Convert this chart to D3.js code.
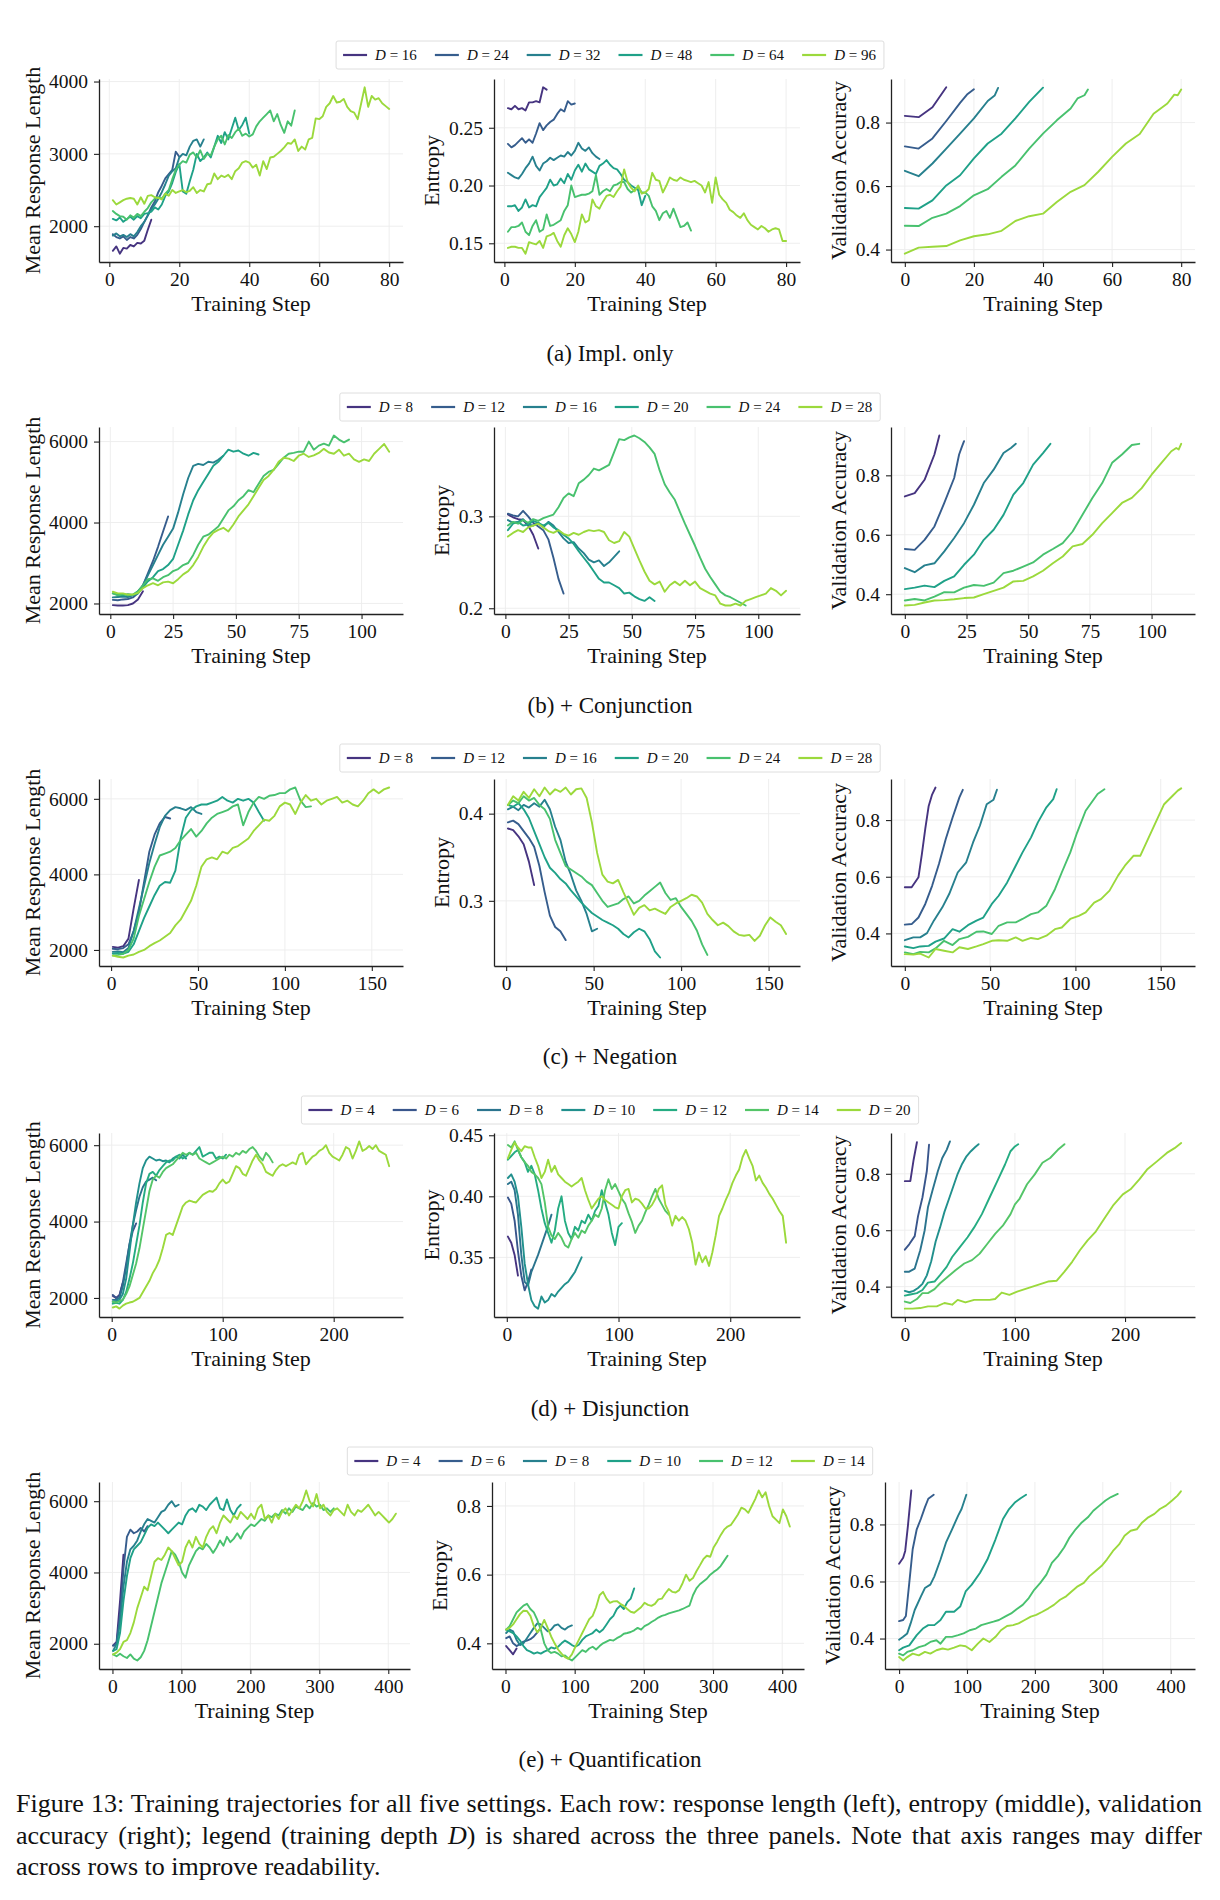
<!DOCTYPE html>
<html>
<head>
<meta charset="utf-8">
<script src="https://cdn.jsdelivr.net/npm/d3@7"></script>
<style>
  body { margin: 0; background: #fff; }
  svg { display: block; }
  svg text { font-family: "Liberation Serif", "Times New Roman", serif; fill: #111; }
</style>
</head>
<body>
<script>
// ---- (a) Impl. only : length / entropy sampled every step from step 1, accuracy as [step, value]
const depthsA = [16, 24, 32, 48, 64, 96];
const strideA = 1;
const lengthA = [
  [1660,1720,1620,1700,1690,1740,1720,1770,1760,1800,1950,2090],
  [1890,1850,1830,1860,1810,1850,1830,1880,1960,2060,2150,2260,2340,2470,2560,2660,2720,2780,3030,2960],
  [1870,1900,1860,1880,1850,1890,1860,1920,2000,2060,2150,2230,2300,2380,2470,2580,2700,2760,2800,2950,3000,2980,3100,3180,3200,3100,3200],
  [2100,2080,2120,2060,2100,2130,2090,2140,2110,2170,2180,2200,2260,2230,2300,2420,2480,2600,2750,2860,2480,2450,2620,2780,3000,2900,2950,3020,2950,3100,3250,3150,3300,3200,3350,3500,3330,3400,3500,3280],
  [2210,2170,2140,2130,2090,2150,2120,2170,2140,2200,2250,2330,2380,2400,2380,2450,2500,2650,2780,2850,2900,2880,2990,3020,2950,3050,2930,3000,2980,3100,3200,3250,3130,3260,3220,3300,3350,3250,3280,3240,3270,3380,3450,3500,3550,3600,3450,3550,3400,3290,3450,3390,3600],
  [2360,2300,2330,2360,2380,2390,2380,2300,2400,2310,2420,2430,2400,2390,2370,2450,2420,2500,2460,2480,2500,2470,2490,2540,2460,2500,2480,2580,2590,2730,2650,2700,2680,2710,2650,2760,2800,2880,2900,2880,2810,2850,2700,2900,2790,2950,2960,3000,3040,3090,3150,3140,3200,3040,3100,3060,3200,3220,3490,3480,3520,3650,3700,3800,3710,3720,3760,3650,3590,3570,3480,3700,3920,3650,3800,3750,3770,3700,3660,3620]
];
const entropyA = [
  [.267,.266,.269,.266,.267,.265,.272,.272,.273,.272,.285,.283],
  [.236,.233,.235,.238,.241,.237,.240,.237,.245,.254,.248,.252,.255,.257,.262,.266,.264,.273,.270,.271],
  [.211,.209,.207,.206,.210,.215,.219,.225,.217,.213,.219,.221,.224,.222,.224,.226,.225,.229,.226,.230,.237,.232,.230,.233,.228,.225,.223],
  [.182,.182,.183,.178,.181,.188,.181,.183,.182,.190,.194,.198,.205,.200,.201,.206,.202,.210,.205,.213,.218,.212,.219,.214,.212,.210,.217,.219,.222,.218,.215,.214,.210,.205,.203,.200,.198,.196,.183,.191],
  [.160,.164,.164,.165,.168,.160,.157,.165,.170,.160,.162,.175,.165,.166,.168,.170,.178,.183,.200,.190,.191,.192,.192,.193,.195,.209,.192,.195,.197,.195,.200,.201,.203,.203,.197,.194,.196,.199,.194,.194,.191,.182,.178,.170,.176,.178,.172,.180,.172,.164,.165,.168,.161],
  [.146,.147,.147,.146,.146,.141,.151,.150,.149,.152,.146,.156,.157,.159,.152,.147,.157,.163,.158,.151,.160,.175,.168,.170,.188,.182,.180,.186,.191,.192,.190,.195,.199,.214,.203,.198,.195,.200,.193,.194,.197,.211,.205,.204,.194,.200,.207,.205,.204,.207,.205,.204,.203,.204,.202,.200,.194,.203,.185,.207,.192,.188,.185,.179,.177,.174,.172,.176,.170,.166,.164,.162,.165,.163,.160,.162,.163,.162,.152,.152]
];
const accuracyA = [
  [[0,.821],[4,.817],[8,.848],[12,.911]],
  [[0,.725],[4,.718],[8,.750],[12,.805],[16,.862],[18,.888],[20,.905]],
  [[0,.648],[4,.631],[8,.671],[12,.718],[16,.765],[20,.813],[24,.868],[26,.885],[27,.909]],
  [[0,.531],[4,.529],[8,.555],[12,.602],[16,.634],[20,.687],[24,.734],[28,.765],[32,.813],[36,.865],[40,.910]],
  [[0,.475],[4,.474],[8,.500],[12,.513],[16,.537],[20,.571],[24,.590],[28,.629],[32,.665],[36,.718],[40,.765],[44,.807],[48,.844],[50,.876],[52,.886],[53,.904]],
  [[0,.387],[4,.406],[8,.409],[12,.411],[16,.429],[20,.442],[24,.448],[28,.459],[32,.490],[36,.505],[40,.513],[44,.550],[48,.582],[52,.603],[56,.645],[60,.692],[64,.734],[68,.764],[72,.828],[76,.860],[78,.888],[79,.886],[80,.904]]
];

// ---- (b) + Conjunction : every 2 steps from step 1
const depthsB = [8, 12, 16, 20, 24, 28];
const strideB = 2;
const lengthB = [
  [1960,1950,1950,1960,2000,2100,2300],
  [2090,2080,2100,2110,2150,2250,2450,2750,3050,3400,3780,4150],
  [2150,2160,2170,2160,2200,2300,2450,2700,2950,3200,3450,3650,3850,4250,4700,5100,5400,5450,5420,5500,5480,5550,5650],
  [2250,2220,2200,2230,2210,2250,2400,2550,2650,2800,2850,2950,3100,3450,3800,4200,4550,4800,5000,5200,5400,5500,5650,5800,5750,5780,5700,5650,5720,5680],
  [2250,2200,2230,2200,2220,2300,2450,2600,2620,2560,2650,2700,2800,2850,2950,3000,3200,3450,3650,3700,3800,3900,4100,4300,4400,4550,4650,4800,4750,4950,5150,5250,5300,5450,5600,5700,5720,5750,5750,6000,5800,5900,5950,5900,6150,6050,5980,6050],
  [2290,2250,2250,2220,2220,2260,2380,2450,2500,2450,2520,2540,2500,2600,2720,2800,2950,3150,3400,3600,3750,3820,3870,3780,3950,4150,4300,4450,4650,4850,5050,5150,5300,5500,5600,5580,5520,5650,5700,5620,5660,5720,5820,5730,5700,5800,5650,5700,5560,5500,5560,5520,5700,5820,5940,5750]
];
const entropyB = [
  [.302,.299,.297,.296,.290,.280,.265],
  [.303,.301,.300,.306,.300,.293,.289,.285,.275,.255,.232,.216],
  [.296,.293,.294,.297,.291,.290,.293,.288,.294,.290,.283,.276,.271,.272,.265,.260,.253,.250,.252,.246,.250,.256,.262],
  [.285,.292,.294,.290,.291,.295,.293,.290,.293,.288,.285,.280,.276,.270,.262,.255,.248,.240,.232,.228,.228,.225,.222,.216,.217,.213,.210,.208,.212,.208],
  [.290,.294,.292,.296,.293,.297,.295,.298,.300,.302,.310,.320,.325,.322,.336,.340,.345,.352,.350,.353,.356,.370,.384,.383,.386,.388,.385,.381,.375,.368,.350,.335,.326,.318,.305,.292,.280,.268,.255,.243,.234,.226,.218,.214,.212,.209,.206,.203],
  [.278,.282,.285,.283,.288,.290,.292,.288,.284,.282,.285,.281,.279,.282,.280,.283,.285,.284,.285,.283,.274,.271,.273,.283,.278,.265,.252,.240,.230,.226,.229,.218,.225,.229,.225,.230,.225,.229,.222,.219,.216,.214,.205,.203,.203,.205,.203,.208,.210,.212,.214,.216,.222,.219,.214,.219]
];
const accuracyB = [
  [[0,.729],[4,.740],[8,.785],[12,.870],[14,.934]],
  [[0,.552],[4,.549],[8,.583],[12,.628],[16,.707],[20,.791],[22,.870],[23,.893],[24,.915]],
  [[0,.488],[4,.474],[8,.497],[12,.504],[16,.544],[20,.589],[24,.639],[28,.701],[32,.774],[36,.819],[40,.875],[43,.892],[45,.906]],
  [[0,.417],[4,.422],[8,.429],[12,.424],[16,.445],[20,.460],[24,.499],[28,.533],[32,.583],[36,.617],[40,.667],[44,.735],[48,.774],[52,.836],[56,.875],[59,.906]],
  [[0,.379],[4,.384],[8,.379],[12,.392],[16,.407],[20,.406],[24,.422],[28,.431],[32,.428],[36,.439],[40,.471],[44,.479],[48,.493],[52,.507],[56,.533],[60,.552],[64,.572],[68,.611],[72,.667],[76,.724],[80,.774],[84,.842],[88,.870],[92,.902],[95,.906]],
  [[0,.362],[4,.364],[8,.372],[12,.379],[16,.380],[20,.383],[24,.387],[28,.389],[32,.400],[36,.411],[40,.422],[44,.443],[48,.445],[52,.460],[56,.479],[60,.504],[64,.527],[68,.561],[72,.569],[76,.600],[80,.639],[84,.673],[88,.707],[92,.724],[96,.757],[100,.802],[104,.842],[108,.881],[110,.892],[111,.887],[112,.906]]
];

// ---- (c) + Negation : every 3 steps from step 1
const depthsC = [8, 12, 16, 20, 24, 28];
const strideC = 3;
const lengthC = [
  [2080,2060,2100,2300,3100,3850],
  [2030,2020,2050,2150,2500,3000,3800,4600,5050,5350,5520,5480],
  [1950,1960,1940,2050,2500,3100,3700,4300,4800,5250,5550,5700,5780,5750,5700,5780,5650,5600],
  [1900,1920,1900,1950,2150,2500,2850,3150,3450,3700,3800,3780,4100,4950,5500,5700,5800,5850,5850,5900,5950,6050,5950,5900,6000,5950,6000,5900,5650,5420],
  [1850,1870,1900,2000,2300,2900,3350,3800,4200,4500,4550,4600,4700,4900,5050,5200,5000,5150,5350,5500,5600,5650,5700,5800,5850,5300,5650,5900,6050,6000,6080,6100,6150,6150,6250,6300,5950,5780,5800],
  [1850,1820,1800,1850,1880,1950,2000,2100,2180,2250,2350,2450,2650,2800,3050,3300,3700,4200,4400,4450,4400,4600,4550,4700,4750,4850,4950,5150,5300,5450,5420,5550,5800,5900,5850,5600,5900,6100,5950,6000,5850,5950,6000,6050,5900,5950,5850,5800,5950,6150,6250,6150,6250,6300]
];
const entropyC = [
  [.383,.381,.374,.365,.345,.318],
  [.390,.392,.388,.380,.372,.362,.340,.310,.283,.270,.265,.255],
  [.405,.408,.404,.410,.407,.412,.408,.416,.405,.385,.370,.345,.330,.312,.300,.285,.265,.268],
  [.410,.408,.412,.405,.395,.380,.365,.350,.338,.332,.325,.320,.312,.305,.298,.292,.286,.282,.278,.275,.272,.268,.262,.258,.264,.268,.265,.256,.242,.235],
  [.410,.415,.412,.420,.415,.418,.410,.405,.394,.370,.355,.340,.336,.332,.328,.322,.318,.309,.300,.293,.295,.297,.302,.305,.297,.300,.306,.311,.316,.321,.309,.301,.303,.293,.285,.277,.266,.250,.238],
  [.410,.420,.415,.425,.418,.428,.420,.430,.422,.428,.425,.430,.422,.428,.429,.418,.390,.355,.330,.322,.320,.324,.310,.297,.284,.292,.295,.289,.291,.288,.285,.293,.297,.300,.303,.307,.305,.298,.285,.278,.272,.275,.271,.265,.261,.260,.261,.254,.260,.272,.281,.276,.272,.262]
];
const accuracyC = [
  [[0,.563],[4,.563],[8,.598],[10,.680],[12,.770],[14,.850],[16,.890],[18,.915]],
  [[0,.431],[4,.433],[8,.456],[12,.504],[16,.568],[20,.645],[24,.733],[28,.809],[32,.880],[34,.907]],
  [[0,.376],[5,.386],[9,.386],[13,.401],[17,.445],[22,.492],[26,.539],[31,.615],[36,.651],[40,.721],[44,.780],[48,.856],[52,.872],[54,.907]],
  [[0,.354],[5,.348],[9,.354],[14,.356],[18,.371],[23,.382],[28,.415],[32,.406],[37,.429],[42,.445],[46,.456],[51,.504],[55,.533],[60,.580],[65,.639],[69,.686],[74,.739],[78,.792],[83,.845],[87,.874],[89,.909]],
  [[0,.333],[5,.327],[9,.335],[14,.333],[18,.347],[23,.374],[28,.359],[32,.380],[37,.388],[42,.406],[46,.407],[51,.398],[55,.427],[60,.439],[65,.439],[69,.451],[74,.468],[78,.474],[83,.498],[88,.556],[92,.615],[97,.686],[101,.756],[106,.833],[113,.892],[117,.909]],
  [[0,.327],[5,.325],[9,.329],[14,.315],[18,.345],[23,.339],[28,.333],[32,.351],[37,.345],[42,.354],[46,.362],[51,.374],[55,.376],[60,.374],[65,.386],[69,.374],[74,.384],[78,.380],[83,.392],[88,.415],[92,.421],[97,.451],[102,.462],[106,.474],[111,.509],[115,.521],[120,.551],[125,.604],[129,.639],[134,.674],[138,.674],[143,.739],[148,.804],[152,.856],[157,.886],[160,.904],[162,.912]]
];

// ---- (d) + Disjunction : every 3 steps from step 1
const depthsD = [4, 6, 8, 10, 12, 14, 20];
const strideD = 3;
const lengthD = [
  [2050,2000,2080,2400],
  [2080,2000,2050,2400,2900,3400,3750,3950],
  [1950,1950,2000,2300,2800,3400,3900,4300,4650,4900,5050,5100,5150,5080],
  [1900,1920,1950,2100,2500,3200,3900,4500,5000,5400,5600,5700,5650,5600,5620,5580,5600,5550,5650,5700,5650,5750,5650],
  [1850,1870,1850,1950,2150,2500,2900,3400,3900,4500,5000,5250,5300,5200,5350,5450,5550,5600,5600,5700,5750,5650,5700,5800,5750,5850,5950,5700,5750,5800,5800,5650,5700,5650,5750],
  [1900,1880,1920,1950,2100,2300,2600,2900,3300,3800,4300,4800,5100,5200,5150,5300,5400,5450,5500,5600,5700,5800,5750,5800,5750,5800,5650,5600,5550,5500,5550,5600,5650,5700,5650,5750,5700,5800,5750,5850,5800,5900,5950,5850,5700,5600,5800,5700,5550],
  [1750,1780,1720,1800,1850,1880,1900,1950,2000,2150,2300,2450,2650,2800,3000,3300,3650,3700,3650,3900,4150,4400,4500,4550,4520,4500,4600,4700,4750,4800,4780,4850,5000,5100,5000,5050,5250,5450,5400,5250,5200,5400,5600,5750,5600,5500,5300,5250,5200,5350,5450,5500,5450,5500,5550,5500,5750,5800,5500,5600,5700,5750,5850,5900,6000,5800,5700,5650,5600,5750,5950,5900,5650,5850,6100,5850,5900,5980,5900,6000,5850,5800,5750,5450]
];
const entropyD = [
  [.367,.362,.352,.335],
  [.399,.394,.380,.355,.335,.323,.330,.340],
  [.410,.412,.405,.385,.352,.330,.327,.338,.345,.352,.360,.368,.376,.385],
  [.415,.418,.412,.400,.375,.345,.328,.315,.310,.308,.318,.313,.315,.320,.318,.322,.325,.328,.330,.334,.338,.344,.350],
  [.430,.433,.436,.438,.432,.428,.420,.425,.418,.405,.390,.378,.370,.362,.372,.390,.400,.380,.370,.365,.375,.372,.380,.378,.385,.380,.388,.392,.405,.395,.385,.370,.360,.375,.378],
  [.442,.440,.445,.438,.432,.428,.425,.420,.418,.415,.410,.395,.375,.368,.365,.370,.366,.360,.358,.365,.370,.366,.372,.370,.376,.380,.385,.383,.390,.405,.414,.406,.410,.404,.398,.394,.386,.379,.370,.376,.380,.387,.393,.400,.406,.398,.393,.388,.385],
  [.431,.438,.444,.440,.437,.441,.440,.440,.432,.425,.415,.420,.430,.420,.425,.418,.415,.412,.410,.408,.410,.412,.415,.405,.397,.390,.394,.398,.400,.397,.395,.393,.391,.390,.400,.405,.406,.395,.398,.397,.394,.390,.390,.393,.398,.406,.409,.393,.387,.376,.384,.380,.383,.380,.373,.362,.344,.354,.346,.351,.343,.354,.368,.384,.390,.397,.403,.411,.417,.422,.432,.438,.431,.425,.413,.417,.411,.407,.402,.398,.393,.388,.384,.362]
];
const accuracyD = [
  [[0,.774],[5,.774],[8,.850],[11,.912]],
  [[0,.531],[4,.550],[9,.579],[12,.650],[16,.716],[20,.810],[22,.903]],
  [[0,.453],[4,.453],[9,.464],[14,.529],[18,.599],[21,.681],[25,.739],[30,.809],[34,.856],[38,.885],[41,.915]],
  [[0,.385],[4,.380],[8,.385],[12,.395],[16,.410],[20,.440],[24,.490],[28,.560],[32,.610],[36,.665],[40,.710],[44,.755],[48,.800],[52,.835],[56,.862],[60,.880],[64,.895],[67,.905]],
  [[0,.368],[5,.372],[11,.377],[16,.388],[21,.414],[27,.418],[32,.441],[38,.470],[43,.505],[50,.540],[57,.575],[63,.610],[70,.657],[77,.716],[84,.774],[91,.833],[96,.880],[100,.897],[103,.905]],
  [[0,.347],[5,.342],[11,.356],[16,.377],[21,.377],[27,.391],[32,.412],[39,.435],[46,.458],[54,.482],[61,.494],[68,.517],[75,.552],[82,.587],[89,.616],[96,.657],[100,.692],[104,.710],[111,.763],[118,.798],[125,.839],[132,.856],[139,.885],[145,.905]],
  [[0,.322],[7,.322],[14,.324],[21,.330],[29,.330],[36,.342],[43,.336],[48,.353],[55,.344],[63,.353],[70,.353],[77,.353],[82,.356],[88,.379],[95,.371],[102,.382],[109,.391],[116,.400],[123,.409],[130,.418],[138,.421],[145,.453],[152,.488],[159,.529],[166,.564],[173,.593],[182,.646],[189,.687],[198,.727],[205,.745],[213,.780],[220,.815],[229,.844],[238,.874],[245,.891],[251,.909]]
];

// ---- (e) + Quantification : every 5 steps from step 1
const depthsE = [4, 6, 8, 10, 12, 14];
const strideE = 5;
const lengthE = [
  [1950,2050,3200,4500],
  [1950,2000,2800,4100,5000,5200,5100,5150,5250,5150,5300],
  [1800,2000,2600,3600,4300,4650,4750,4900,5150,5350,5500,5450,5400,5550,5700,5750,5900,6000,5850,5900],
  [1800,1850,2300,3200,3900,4400,4650,4750,4850,5050,5250,5350,5300,5400,5300,5200,5100,5200,5300,5400,5350,5600,5750,5800,5700,5900,5850,5750,5900,6000,6100,5800,5750,6050,5750,5600,5800,5900],
  [1700,1650,1720,1650,1600,1700,1580,1530,1620,1800,2100,2500,2900,3300,3700,4000,4300,4600,4500,4300,4000,3850,4200,4400,4600,4700,4650,4800,4700,4550,4700,4900,4750,5000,4850,4950,5100,4950,5150,5250,5350,5300,5400,5500,5450,5600,5550,5650,5600,5750,5650,5800,5700,5850,5800,5750,5900,5800,5950,5850,5900,5750,5800,5700,5800],
  [1700,1750,1850,2050,2100,2300,2600,3000,3300,3600,3500,3900,4300,4400,4350,4500,4700,4600,4400,4200,4300,4700,4900,4700,5000,4800,4700,5000,5200,5300,5100,5400,5600,5500,5400,5600,5500,5700,5600,5500,5650,5500,5800,5900,5500,5600,5400,5650,5500,5700,5800,5600,5750,5900,5800,6000,6300,6000,5850,6200,5800,5900,5700,5600,5750,5800,5700,5600,5900,5700,5600,5750,5700,5800,5900,5750,5600,5700,5600,5500,5400,5500,5650]
];
const entropyE = [
  [.392,.380,.368,.385],
  [.415,.420,.400,.392,.398,.405,.408,.412,.420,.432,.445],
  [.430,.440,.435,.410,.395,.400,.415,.430,.445,.458,.455,.445,.435,.440,.452,.455,.445,.440,.448,.452],
  [.440,.435,.430,.420,.408,.392,.380,.376,.370,.374,.370,.376,.380,.388,.385,.390,.400,.408,.402,.395,.390,.396,.410,.420,.425,.430,.440,.432,.440,.455,.470,.480,.500,.510,.500,.520,.530,.560],
  [.440,.450,.470,.490,.500,.510,.515,.500,.490,.468,.440,.400,.380,.372,.375,.370,.362,.365,.356,.350,.360,.370,.380,.375,.385,.390,.382,.392,.400,.405,.410,.408,.415,.420,.428,.430,.433,.438,.445,.440,.450,.455,.462,.468,.475,.480,.483,.487,.490,.493,.496,.500,.505,.510,.540,.560,.572,.580,.588,.600,.608,.615,.625,.640,.655],
  [.440,.445,.455,.470,.485,.495,.494,.480,.450,.432,.445,.468,.445,.420,.400,.382,.370,.360,.355,.368,.390,.410,.430,.450,.470,.480,.505,.540,.550,.530,.518,.522,.523,.515,.509,.500,.492,.489,.497,.505,.518,.512,.509,.515,.528,.530,.545,.558,.550,.548,.555,.575,.600,.582,.590,.610,.627,.645,.655,.652,.680,.696,.715,.731,.740,.745,.760,.775,.795,.790,.780,.800,.820,.845,.825,.840,.800,.770,.760,.750,.790,.770,.740]
];
const accuracyE = [
  [[0,.662],[6,.683],[9,.707],[13,.795],[18,.919]],
  [[0,.461],[6,.465],[10,.479],[15,.595],[20,.713],[26,.783],[32,.819],[38,.860],[43,.890],[51,.904]],
  [[0,.396],[6,.406],[12,.418],[17,.453],[23,.500],[32,.547],[38,.577],[46,.589],[52,.618],[61,.677],[69,.736],[78,.783],[87,.831],[92,.854],[99,.904]],
  [[0,.359],[6,.368],[15,.376],[26,.412],[35,.435],[43,.447],[52,.447],[61,.465],[69,.494],[81,.494],[90,.512],[98,.565],[107,.589],[119,.630],[130,.677],[142,.748],[153,.819],[162,.854],[171,.878],[179,.892],[187,.904]],
  [[0,.347],[6,.341],[12,.353],[20,.359],[29,.370],[38,.376],[46,.388],[55,.394],[61,.382],[69,.406],[78,.406],[87,.412],[95,.418],[104,.429],[113,.435],[121,.447],[130,.453],[139,.459],[147,.465],[156,.477],[165,.488],[173,.503],[182,.518],[191,.542],[199,.571],[208,.595],[217,.624],[225,.665],[234,.689],[243,.719],[251,.754],[260,.783],[269,.807],[278,.825],[286,.848],[295,.866],[304,.884],[312,.896],[322,.907]],
  [[0,.335],[6,.323],[12,.335],[20,.347],[29,.341],[38,.353],[46,.347],[55,.359],[64,.365],[72,.361],[81,.368],[90,.376],[98,.373],[107,.359],[116,.382],[124,.400],[133,.388],[142,.406],[150,.429],[159,.444],[168,.447],[176,.453],[185,.465],[194,.477],[202,.483],[211,.494],[220,.506],[228,.518],[237,.536],[246,.548],[254,.565],[263,.583],[272,.595],[280,.618],[289,.636],[298,.654],[306,.677],[315,.707],[324,.730],[332,.760],[341,.778],[350,.783],[358,.807],[367,.825],[376,.837],[384,.854],[393,.866],[402,.884],[410,.901],[415,.916]]
];

// tick labels
const xTicksA = [0, 20, 40, 60, 80];
const xTicksB = [0, 25, 50, 75, 100];
const xTicksC = [0, 50, 100, 150];
const xTicksD = [0, 100, 200];
const xTicksE = [0, 100, 200, 300, 400];
const lengthTicksA = [2000, 3000, 4000];
const lengthTicks = [2000, 4000, 6000];
const entropyTicksA = [0.15, 0.20, 0.25];
const entropyTicksB = [0.2, 0.3];
const entropyTicksC = [0.3, 0.4];
const entropyTicksD = [0.35, 0.40, 0.45];
const entropyTicksE = [0.4, 0.6, 0.8];
const accuracyTicks = [0.4, 0.6, 0.8];

const rowCaptions = ["(a) Impl. only", "(b) + Conjunction", "(c) + Negation", "(d) + Disjunction", "(e) + Quantification"];

const rows = [
  { depths: depthsA, stride: strideA, len: lengthA, ent: entropyA, acc: accuracyA, xt: xTicksA, lt: lengthTicksA, et: entropyTicksA, ef: ".2f" },
  { depths: depthsB, stride: strideB, len: lengthB, ent: entropyB, acc: accuracyB, xt: xTicksB, lt: lengthTicks, et: entropyTicksB, ef: ".1f" },
  { depths: depthsC, stride: strideC, len: lengthC, ent: entropyC, acc: accuracyC, xt: xTicksC, lt: lengthTicks, et: entropyTicksC, ef: ".1f" },
  { depths: depthsD, stride: strideD, len: lengthD, ent: entropyD, acc: accuracyD, xt: xTicksD, lt: lengthTicks, et: entropyTicksD, ef: ".2f" },
  { depths: depthsE, stride: strideE, len: lengthE, ent: entropyE, acc: accuracyE, xt: xTicksE, lt: lengthTicks, et: entropyTicksE, ef: ".1f" }
];

// layout (pixels)
const rowTop = [79, 427, 779, 1133, 1482];
const rowBottom = [262, 614, 966, 1317, 1669];
const legendTop = [41, 393, 744, 1096, 1447];
const captionY = [361, 712.5, 1064, 1415.5, 1767];
const colsStd = [[99, 403], [494, 800], [891, 1195]];
const colsE = [[99, 410], [492, 804], [885, 1195]];

const svg = d3.select("body").append("svg").attr("width", 1220).attr("height", 1900);

// regular series -> [step, value]
const toPoints = (vals, stride) => vals.map((v, i) => [1 + i * stride, v]);

function drawPanel(series, colors, x0, x1, y0, y1, xTicks, yTicks, yFmt, yLabel) {
  const g = svg.append("g");
  const pts = series.flat();
  const xe = d3.extent(pts, d => d[0]);
  const ye = d3.extent(pts, d => d[1]);
  const xp = (xe[1] - xe[0]) * 0.05, yp = (ye[1] - ye[0]) * 0.05;
  const x = d3.scaleLinear().domain([xe[0] - xp, xe[1] + xp]).range([x0, x1]);
  const y = d3.scaleLinear().domain([ye[0] - yp, ye[1] + yp]).range([y1, y0]);

  // grid
  g.append("g").selectAll("line").data(xTicks).join("line")
    .attr("x1", d => x(d)).attr("x2", d => x(d)).attr("y1", y0).attr("y2", y1)
    .attr("stroke", "#ececec").attr("stroke-width", 0.9);
  g.append("g").selectAll("line").data(yTicks).join("line")
    .attr("x1", x0).attr("x2", x1).attr("y1", d => y(d)).attr("y2", d => y(d))
    .attr("stroke", "#ececec").attr("stroke-width", 0.9);

  const line = d3.line().x(d => x(d[0])).y(d => y(d[1]));
  g.append("g").selectAll("path").data(series).join("path")
    .attr("d", line)
    .attr("fill", "none")
    .attr("stroke", (d, i) => colors[i])
    .attr("stroke-width", 1.9)
    .attr("stroke-linejoin", "round")
    .attr("stroke-linecap", "round");

  const ax = g.append("g").attr("transform", `translate(0,${y1})`)
    .call(d3.axisBottom(x).tickValues(xTicks).tickSize(5).tickSizeOuter(0).tickPadding(5));
  const ay = g.append("g").attr("transform", `translate(${x0},0)`)
    .call(d3.axisLeft(y).tickValues(yTicks).tickFormat(d3.format(yFmt)).tickSize(5).tickSizeOuter(0).tickPadding(6));
  [ax, ay].forEach(a => {
    a.attr("font-family", null).attr("font-size", null);
    a.selectAll("text").attr("font-size", 19.5).attr("fill", "#111");
    a.select(".domain").attr("stroke", "#222").attr("stroke-width", 1.3);
    a.selectAll(".tick line").attr("stroke", "#222").attr("stroke-width", 1.1);
  });

  g.append("text")
    .attr("x", (x0 + x1) / 2).attr("y", y1 + 49)
    .attr("text-anchor", "middle").attr("font-size", 22)
    .text("Training Step");

  const bb = ay.node().getBBox();
  g.append("text")
    .attr("transform", `translate(${x0 + bb.x - 9.5},${(y0 + y1) / 2}) rotate(-90)`)
    .attr("text-anchor", "middle").attr("font-size", 22)
    .text(yLabel);
}

function drawLegend(depths, colors, top) {
  const lg = svg.append("g");
  let cx = 0;
  depths.forEach((d, i) => {
    const e = lg.append("g").attr("transform", `translate(${cx},0)`);
    e.append("line").attr("x1", 0).attr("x2", 24).attr("y1", 0).attr("y2", 0)
      .attr("stroke", colors[i]).attr("stroke-width", 2.2);
    const t = e.append("text").attr("x", 32).attr("y", 5).attr("font-size", 15);
    t.append("tspan").attr("font-style", "italic").text("D");
    t.append("tspan").text(" = " + d);
    cx += 32 + t.node().getComputedTextLength() + 18;
  });
  const w = cx - 18 + 15;
  const left = 610 - w / 2;
  lg.attr("transform", `translate(${left + 7},${top + 14})`);
  lg.insert("rect", ":first-child")
    .attr("x", -7).attr("y", -14).attr("width", w).attr("height", 28)
    .attr("fill", "#fff").attr("stroke", "#dedede").attr("stroke-width", 1).attr("rx", 2);
}

rows.forEach((r, k) => {
  const n = r.depths.length;
  const colors = r.depths.map((d, i) => d3.interpolateViridis(0.15 + 0.7 * i / (n - 1)));
  const cols = k === 4 ? colsE : colsStd;
  const y0 = rowTop[k], y1 = rowBottom[k];

  drawLegend(r.depths, colors, legendTop[k]);

  drawPanel(r.len.map(v => toPoints(v, r.stride)), colors, cols[0][0], cols[0][1], y0, y1,
    r.xt, r.lt, "d", "Mean Response Length");
  drawPanel(r.ent.map(v => toPoints(v, r.stride)), colors, cols[1][0], cols[1][1], y0, y1,
    r.xt, r.et, r.ef, "Entropy");
  drawPanel(r.acc, colors, cols[2][0], cols[2][1], y0, y1,
    r.xt, accuracyTicks, ".1f", "Validation Accuracy");

  svg.append("text")
    .attr("x", 610).attr("y", captionY[k])
    .attr("text-anchor", "middle").attr("font-size", 23)
    .text(rowCaptions[k]);
});

// figure caption: size the font so line 1 fills the width with normal spacing, then justify lines 1-2
const captionLines = [
  [["Figure 13: Training trajectories for all five settings. Each row: response length (left), entropy (middle), validation", false]],
  [["accuracy (right); legend (training depth ", false], ["D", true], [") is shared across the three panels. Note that axis ranges may differ", false]],
  [["across rows to improve readability.", false]]
];
const captionBase = [1812, 1843.5, 1875];
const captionWidth = 1186;
const probe = svg.append("text").attr("font-size", 20).text(captionLines[0][0][0]);
const capFont = Math.min(26, 20 * (captionWidth - 4) / probe.node().getComputedTextLength());
probe.remove();
captionLines.forEach((parts, i) => {
  const t = svg.append("text").attr("x", 16).attr("y", captionBase[i]).attr("font-size", capFont);
  parts.forEach(([s, it]) => {
    const sp = t.append("tspan").text(s);
    if (it) sp.attr("font-style", "italic");
  });
  if (i < 2) {
    const natural = t.node().getComputedTextLength();
    const spaces = parts.map(p => p[0]).join("").split(" ").length - 1;
    t.attr("word-spacing", (captionWidth - natural) / spaces);
  }
});
</script>
</body>
</html>
